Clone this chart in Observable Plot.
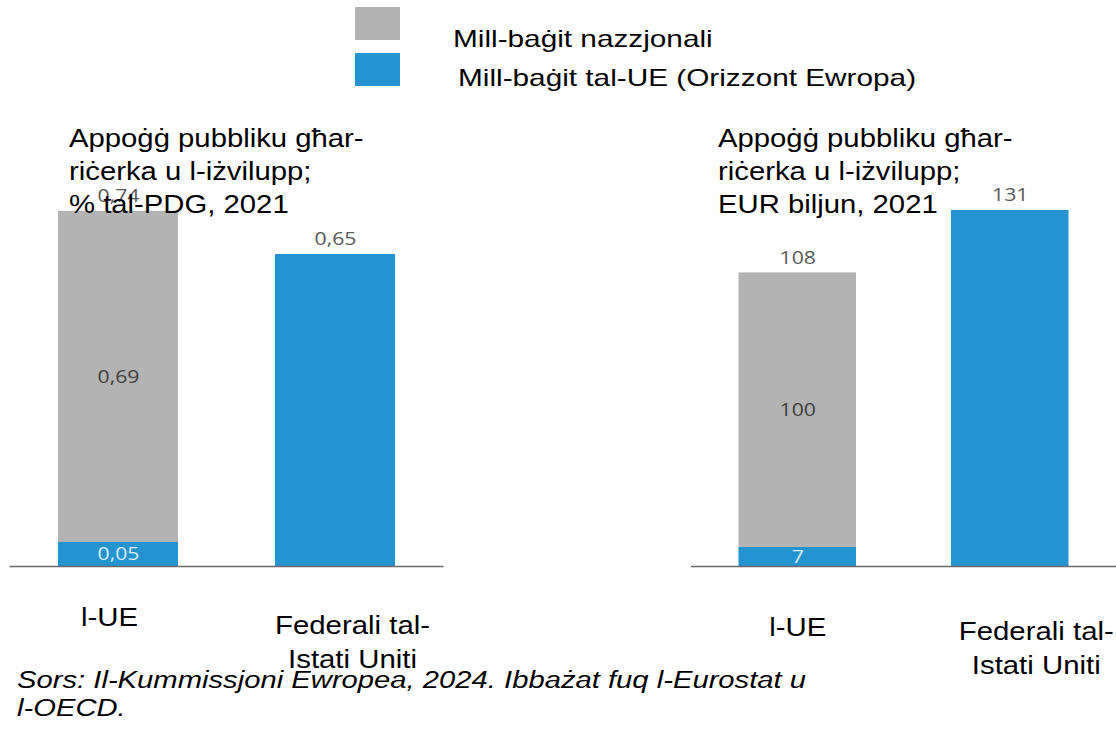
<!DOCTYPE html>
<html>
<head>
<meta charset="utf-8">
<script src="https://cdn.jsdelivr.net/npm/d3@7"></script>
<script src="https://cdn.jsdelivr.net/npm/@observablehq/plot@0.6"></script>
<style>
  html, body { margin: 0; padding: 0; background: #fff; overflow: hidden; }
  #root { position: relative; width: 1116px; height: 729px; font-family: "Liberation Sans", Arial, sans-serif; color: #000; }
  .abs { position: absolute; white-space: nowrap; transform-origin: 0 0; }
  .title { font-size: 26px; line-height: 33px; transform: scaleX(1.126); }
  .legtxt { font-size: 24px; line-height: 28px; transform: scaleX(1.24); }
  .swatch { position: absolute; width: 45px; height: 33px; }
  .foot { font-size: 23px; line-height: 28px; font-style: italic; transform: scaleX(1.27); }
</style>
</head>
<body>
<div id="root"></div>
<script>
// ---- data ----
const categories = ["l-UE", "Federali tal-\nIstati Uniti"];
const seriesNames = ["Mill-baġit nazzjonali", "Mill-baġit tal-UE (Orizzont Ewropa)"];
const colors = ["#b3b3b3", "#2394cf"];

// Panel 1: % of GDP, 2021
const pctEUBudget = [0.05, 0.65];   // blue segment (EU budget / US federal)
const pctNational = [0.69, null];   // grey segment
const pctTotal = [0.74, 0.65];

// Panel 2: EUR billion, 2021
const eurEUBudget = [7, 131];
const eurNational = [100, null];
const eurTotal = [108, 131];

const panelTitles = [
  "Appoġġ pubbliku għar-\nriċerka u l-iżvilupp;\n% tal-PDG, 2021",
  "Appoġġ pubbliku għar-\nriċerka u l-iżvilupp;\nEUR biljun, 2021"
];
const source = "Sors: Il-Kummissjoni Ewropea, 2024. Ibbażat fuq l-Eurostat u\nl-OECD.";

const root = document.getElementById("root");

function fmtComma(d) { return d3.format(".2f")(d).replace(".", ","); }
function fmtInt(d) { return d3.format("d")(d); }

function panel(opts) {
  const {blue, grey, total, yMax, marginLeft, marginRight, width, fmt, dxUE, dyUE, dxUS, dyUS} = opts;
  const segBlue = categories.map((c, i) => ({cat: c, y1: 0, y2: blue[i], v: blue[i]}));
  const segGrey = categories.map((c, i) => ({cat: c, y1: blue[i], y2: total[i], v: grey[i]})).filter(d => d.v != null);
  const tops = categories.map((c, i) => ({cat: c, v: total[i]}));
  const insideBlue = segBlue.filter(d => grey[categories.indexOf(d.cat)] != null);
  const valFont = {fontSize: 18, fontFamily: "Open Sans, sans-serif", className: "val"};
  const catFont = {fontSize: 26, fill: "#000", fontFamily: "Liberation Sans, Arial, sans-serif", className: "cat", lineAnchor: "top"};
  const svg = Plot.plot({
    width, height: 560,
    marginLeft, marginRight, marginTop: 0, marginBottom: 144,
    x: {domain: categories, type: "band", paddingInner: 0.447, paddingOuter: 0.2235, round: false, axis: null},
    y: {domain: [0, yMax], axis: null},
    style: {overflow: "visible", background: "transparent"},
    marks: [
      Plot.rectY(segBlue, {x: "cat", y1: "y1", y2: "y2", fill: colors[1]}),
      Plot.rectY(segGrey, {x: "cat", y1: "y1", y2: "y2", fill: colors[0]}),
      Plot.ruleY(segGrey, {x: "cat", y: "y1", stroke: "#e8e8e8", strokeWidth: 1}),
      Plot.ruleY([0], {stroke: "#6a6a6a", strokeWidth: 1.5}),
      Plot.text(tops, {x: "cat", y: "v", text: d => fmt(d.v), dy: -15, fill: "#595959", ...valFont}),
      Plot.text(segGrey, {x: "cat", y: d => (d.y1 + d.y2) / 2, text: d => fmt(d.v), fill: "#404040", ...valFont}),
      Plot.text(insideBlue, {x: "cat", y: d => (d.y1 + d.y2) / 2, text: d => fmt(d.v), fill: "#dbe9f4", ...valFont}),
      Plot.text([categories[0]], {x: d => d, y: () => 0, text: d => d, dx: dxUE, dy: dyUE, ...catFont}),
      Plot.text([categories[1]], {x: d => d, y: () => 0, text: d => d, dx: dxUS, dy: dyUS, lineHeight: 1.308, ...catFont})
    ]
  });
  // the reference text is horizontally stretched
  svg.querySelectorAll("g.val text").forEach(t => t.setAttribute("transform", (t.getAttribute("transform") || "") + " scale(1.18,1)"));
  svg.querySelectorAll("g.cat text").forEach(t => t.setAttribute("transform", (t.getAttribute("transform") || "") + " scale(1.13,1)"));
  return svg;
}

// left panel: baseline y=566 (svg top 150 -> 416px); 480 px per unit
const left = panel({blue: pctEUBudget, grey: pctNational, total: pctTotal, yMax: 416 / 480,
  width: 450, marginLeft: 9.5, marginRight: 6.5, fmt: fmtComma, dxUE: -9, dyUE: 41, dxUS: 17, dyUS: 43});
left.style.position = "absolute"; left.style.left = "0px"; left.style.top = "150px";
root.appendChild(left);

// right panel: 2.718 px per unit
const right = panel({blue: eurEUBudget, grey: eurNational, total: eurTotal, yMax: 416 / 2.718,
  width: 436, marginLeft: 11, marginRight: 0, fmt: fmtInt, dxUE: 0, dyUE: 51, dxUS: 26, dyUS: 49});
right.style.position = "absolute"; right.style.left = "680px"; right.style.top = "150px";
root.appendChild(right);

// panel titles
[[69, panelTitles[0]], [718, panelTitles[1]]].forEach(([x, t]) => {
  const d = document.createElement("div");
  d.className = "abs title";
  d.style.left = x + "px"; d.style.top = "121.5px";
  d.innerHTML = t.split("\n").map(s => `<div>${s}</div>`).join("");
  root.appendChild(d);
});

// legend
[[7, colors[0], seriesNames[0], 453, 24.7], [53, colors[1], seriesNames[1], 458, 63.7]].forEach(([sy, c, name, tx, ty]) => {
  const s = document.createElement("div");
  s.className = "swatch"; s.style.left = "355px"; s.style.top = sy + "px"; s.style.background = c;
  root.appendChild(s);
  const t = document.createElement("div");
  t.className = "abs legtxt"; t.style.left = tx + "px"; t.style.top = ty + "px"; t.textContent = name;
  root.appendChild(t);
});

// source
const f = document.createElement("div");
f.className = "abs foot"; f.style.left = "17px"; f.style.top = "666px";
f.innerHTML = source.split("\n").map(s => `<div>${s}</div>`).join("");
root.appendChild(f);
</script>
</body>
</html>
